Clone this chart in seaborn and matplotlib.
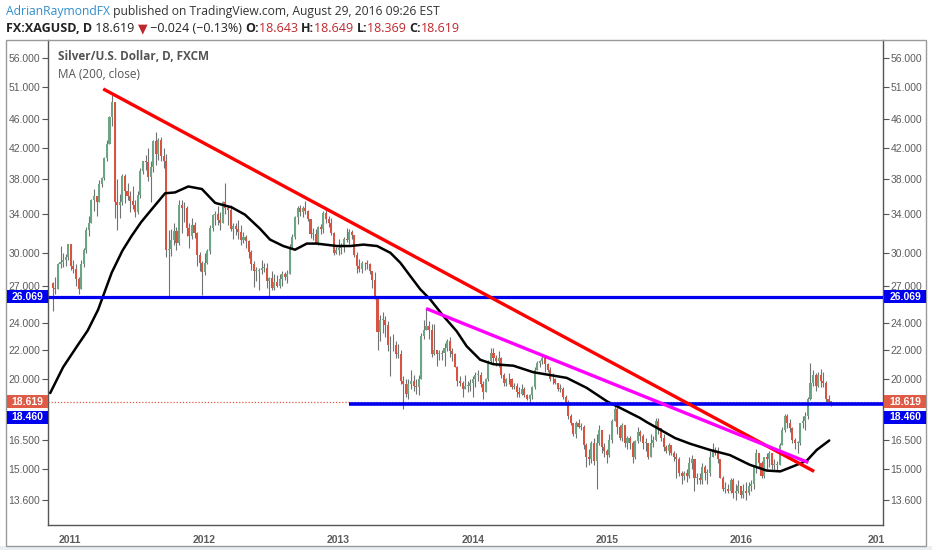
import pandas as pd
import matplotlib
matplotlib.use('Agg')
import matplotlib.pyplot as plt
import matplotlib.transforms as mtransforms
from matplotlib.patches import Rectangle
from matplotlib.ticker import FixedLocator, NullLocator, FuncFormatter
import seaborn as sns

# weekly candles (week starting 2010-11-15)
close_2010 = [26.8, 26.7, 28.9, 29.1, 29.3, 29.6, 30.9]
high_2010 = [27.3, 27.8, 29.0, 30.7, 30.0, 29.9, 30.9]
low_2010 = [24.9, 26.3, 26.7, 28.6, 28.7, 28.8, 29.3]

close_2011 = [28.8, 28.5, 27.6, 26.7, 28.9, 30.3, 32.3, 33.0, 35.5, 36.0, 35.3, 37.4, 38.1,
              40.6, 42.5, 46.3, 48.6, 35.3, 35.0, 35.3, 38.4, 36.6, 36.0, 35.4, 35.0, 34.2,
              36.1, 39.0, 40.2, 40.1, 38.2, 39.5, 42.9, 41.2, 43.0, 40.9, 40.2, 30.3, 30.4,
              31.3, 32.2, 31.0, 35.0, 34.6, 34.6, 32.5, 31.7, 32.8, 32.0, 29.8, 29.0, 28.2]
high_2011 = [30.9, 29.3, 28.9, 27.8, 29.3, 30.5, 32.6, 33.7, 35.6, 36.8, 36.0, 37.9, 38.2,
             40.8, 43.0, 46.5, 49.8, 48.5, 38.0, 36.2, 38.6, 38.6, 37.5, 36.6, 37.1, 35.5,
             36.6, 39.4, 40.3, 41.0, 41.9, 40.3, 43.0, 44.2, 43.3, 43.4, 41.9, 41.2, 32.3,
             32.4, 33.0, 32.6, 35.5, 35.5, 35.3, 34.8, 33.0, 33.5, 33.1, 32.1, 30.1, 29.2]
low_2011 = [28.4, 28.1, 27.0, 26.3, 27.4, 28.7, 30.0, 31.7, 33.8, 34.3, 33.8, 35.5, 37.0,
            37.9, 40.3, 42.7, 45.0, 33.5, 32.3, 33.5, 35.0, 35.2, 35.5, 34.2, 34.5, 33.6,
            34.0, 35.8, 38.6, 39.1, 37.7, 35.3, 38.8, 39.8, 40.4, 40.2, 39.3, 29.6, 26.1,
            29.7, 30.8, 30.3, 30.8, 32.0, 33.1, 31.7, 30.5, 31.4, 31.5, 28.8, 28.3, 26.2]

close_2012 = [29.0, 30.2, 32.5, 33.9, 34.0, 33.3, 33.0, 35.3, 34.6, 34.4, 32.4, 32.7, 32.4,
              32.1, 31.3, 31.6, 31.2, 30.1, 28.9, 28.3, 28.3, 28.4, 28.6, 28.6, 27.4, 27.7,
              26.8, 27.3, 27.0, 27.6, 28.0, 27.8, 28.0, 30.6, 31.6, 33.6, 34.6, 34.2, 34.6,
              34.3, 33.4, 31.9, 31.9, 31.0, 32.6, 32.4, 34.1, 33.4, 33.0, 32.0, 30.0, 30.3, 30.5]
high_2012 = [30.0, 30.4, 32.8, 34.0, 34.3, 34.9, 34.2, 35.4, 37.5, 34.8, 35.0, 33.0, 33.0,
             33.3, 32.8, 32.1, 31.8, 31.3, 30.3, 29.2, 28.7, 28.6, 29.3, 29.0, 29.0, 27.8,
             28.3, 28.0, 27.9, 28.0, 28.3, 28.2, 28.4, 30.9, 31.9, 33.8, 34.8, 35.0, 34.8,
             35.4, 34.4, 33.3, 32.5, 32.4, 32.7, 32.9, 34.3, 34.7, 33.8, 33.5, 32.1, 30.6, 31.4]
low_2012 = [27.9, 28.9, 29.9, 32.2, 32.8, 32.8, 32.3, 33.1, 34.0, 32.8, 32.2, 31.4, 31.8,
            31.4, 30.8, 31.0, 30.5, 29.5, 28.4, 26.9, 27.4, 26.6, 28.0, 28.2, 26.8, 26.1,
            26.6, 26.6, 26.9, 26.8, 27.0, 27.5, 27.2, 28.1, 30.4, 31.4, 32.9, 33.8, 33.6,
            34.0, 33.2, 31.5, 31.3, 30.9, 30.8, 31.9, 32.0, 33.0, 32.6, 31.8, 29.8, 29.9, 29.8]

close_2013 = [30.6, 31.4, 31.3, 32.1, 31.8, 29.8, 28.8, 28.5, 29.0, 29.0, 28.9, 28.3, 27.5,
              26.0, 23.3, 24.2, 24.2, 23.8, 22.3, 22.3, 22.3, 21.7, 21.7, 19.9, 19.7, 19.1,
              19.7, 19.9, 19.6, 19.5, 20.0, 23.0, 23.4, 23.7, 23.4, 21.7, 22.0, 21.7, 21.7,
              21.8, 22.1, 22.6, 21.9, 21.7, 20.8, 19.9, 19.8, 19.4, 19.6, 19.6, 19.8, 20.0]
high_2013 = [31.0, 31.6, 32.5, 32.4, 32.3, 31.8, 30.1, 29.4, 29.2, 29.1, 29.3, 29.0, 28.3,
             28.2, 25.9, 24.6, 24.8, 24.5, 24.1, 23.0, 23.1, 22.6, 22.4, 22.0, 20.2, 20.0,
             20.0, 20.6, 20.3, 20.0, 20.3, 23.2, 24.2, 25.1, 24.1, 23.9, 23.9, 22.0, 22.0,
             22.0, 22.5, 22.8, 22.9, 22.1, 21.8, 20.9, 20.2, 19.9, 20.3, 19.9, 20.0, 20.2]
low_2013 = [29.9, 30.1, 31.1, 30.9, 31.4, 29.6, 28.1, 28.2, 28.1, 28.4, 28.5, 28.0, 26.8,
            25.9, 22.0, 22.6, 23.2, 22.9, 21.9, 20.2, 21.9, 21.4, 21.4, 19.7, 18.2, 18.9,
            18.8, 19.4, 19.3, 19.1, 19.0, 20.0, 22.8, 23.4, 22.8, 21.5, 21.6, 20.9, 21.3,
            21.3, 20.9, 21.9, 21.5, 21.2, 20.8, 19.6, 19.6, 18.9, 19.4, 19.2, 19.3, 18.9]

close_2014 = [20.3, 20.3, 19.7, 19.2, 20.0, 21.2, 21.8, 21.4, 21.2, 21.4, 20.3, 19.8, 20.0,
              20.0, 19.5, 19.6, 19.2, 19.1, 19.4, 19.0, 18.8, 19.0, 19.5, 20.6, 21.1, 21.2,
              21.4, 21.0, 20.6, 20.0, 20.0, 19.8, 19.4, 19.4, 18.9, 18.6, 17.8, 17.4, 16.8,
              17.4, 17.2, 17.2, 16.2, 15.6, 15.5, 16.3, 15.4, 16.3, 17.0, 16.1, 15.9, 15.7]
high_2014 = [20.5, 20.6, 20.5, 19.9, 20.1, 21.3, 22.1, 22.1, 21.6, 21.9, 21.5, 20.4, 20.1,
             20.4, 20.1, 19.8, 19.8, 19.5, 19.7, 19.5, 19.1, 19.1, 19.6, 20.8, 21.2, 21.3,
             21.6, 21.4, 21.1, 20.8, 20.4, 20.1, 19.8, 19.7, 19.5, 19.0, 18.7, 17.9, 17.4,
             17.5, 17.6, 17.4, 17.3, 16.3, 16.0, 16.4, 16.6, 16.8, 17.3, 17.0, 16.3, 16.0]
low_2014 = [19.5, 19.9, 19.5, 18.8, 19.2, 19.9, 21.1, 21.0, 20.9, 20.8, 20.1, 19.6, 19.6,
            19.7, 19.4, 19.4, 18.9, 18.9, 19.0, 18.9, 18.7, 18.6, 18.8, 19.4, 20.6, 20.8,
            21.0, 20.5, 20.5, 19.9, 19.7, 19.7, 19.3, 19.2, 18.8, 18.4, 17.6, 17.3, 16.7,
            16.6, 17.1, 17.0, 16.0, 15.1, 15.2, 15.3, 15.2, 14.1, 16.2, 15.8, 15.6, 15.3]

close_2015 = [16.5, 17.5, 18.2, 17.2, 16.6, 17.3, 16.3, 16.6, 16.3, 15.6, 16.4, 16.9, 16.7,
              16.3, 16.3, 15.6, 16.3, 16.5, 17.5, 17.1, 16.6, 16.1, 15.9, 16.2, 15.8, 15.6,
              15.5, 14.8, 14.7, 14.8, 14.7, 15.3, 15.5, 14.6, 14.6, 14.5, 15.1, 14.8, 14.8,
              15.6, 15.9, 15.8, 15.5, 14.6, 14.1, 14.1, 14.0, 14.5, 13.9, 14.0, 14.2, 13.8]
high_2015 = [16.8, 17.6, 18.5, 18.4, 17.3, 17.4, 17.3, 16.7, 16.7, 16.4, 16.5, 17.2, 17.0,
             16.8, 16.6, 16.0, 16.8, 16.7, 17.7, 17.7, 17.1, 16.8, 16.2, 16.3, 16.2, 15.9,
             15.8, 15.6, 14.9, 14.9, 15.0, 15.6, 15.7, 15.5, 14.8, 14.8, 15.3, 15.2, 15.0,
             15.9, 16.3, 16.1, 16.1, 15.5, 14.7, 14.4, 14.3, 14.6, 14.6, 14.3, 14.5, 14.1]
low_2015 = [15.6, 16.3, 17.7, 16.8, 16.5, 16.4, 16.1, 16.0, 16.0, 15.3, 15.5, 16.3, 16.4,
            16.0, 15.9, 15.5, 15.6, 16.1, 16.4, 16.8, 16.4, 15.9, 15.8, 15.7, 15.7, 15.4,
            14.6, 14.7, 14.3, 14.5, 14.4, 14.6, 15.0, 14.0, 14.3, 14.3, 14.3, 14.5, 14.3,
            14.7, 15.6, 15.7, 15.3, 14.6, 14.0, 13.9, 13.9, 13.9, 13.7, 13.6, 13.9, 13.7]

close_2016 = [14.0, 13.9, 14.2, 14.3, 15.1, 15.8, 15.3, 14.7, 15.6, 15.5, 15.8, 15.2, 15.2,
              15.2, 16.2, 17.0, 17.8, 17.4, 17.1, 16.5, 16.3, 16.3, 17.4, 17.5, 17.8, 18.8,
              19.8, 20.3, 19.6, 20.3, 19.9, 19.8, 18.8, 18.6, 18.619]
high_2016 = [14.3, 14.4, 14.4, 14.5, 15.2, 16.0, 15.8, 15.4, 15.6, 15.8, 15.9, 15.8, 15.5,
             15.4, 16.3, 17.2, 17.9, 17.9, 17.6, 17.2, 16.6, 16.4, 17.4, 17.8, 18.0, 18.9,
             21.1, 20.6, 20.4, 20.5, 20.7, 20.5, 19.9, 19.0, 18.649]
low_2016 = [13.7, 13.6, 13.8, 14.0, 14.1, 14.8, 15.1, 14.6, 14.6, 15.0, 15.1, 15.0, 14.9,
            14.9, 15.3, 16.2, 16.9, 17.1, 16.9, 16.3, 16.0, 15.8, 16.2, 17.1, 17.0, 17.6,
            18.7, 19.6, 19.3, 19.5, 19.5, 19.5, 18.6, 18.5, 18.369]
first_open = 27.2

# 200-day moving average
ma_dates = ['2010-11-10', '2010-12-15', '2011-01-22', '2011-02-20', '2011-03-20', '2011-04-26',
            '2011-05-25', '2011-06-19', '2011-07-15', '2011-08-13', '2011-09-18', '2011-10-15',
            '2011-11-20', '2011-12-27', '2012-02-01', '2012-03-17', '2012-04-22', '2012-06-02',
            '2012-06-29', '2012-08-04', '2012-09-05', '2012-10-07', '2012-11-03', '2012-12-28',
            '2013-02-02', '2013-03-10', '2013-04-16', '2013-05-22', '2013-06-18', '2013-07-15',
            '2013-08-11', '2013-09-07', '2013-10-13', '2013-11-18', '2013-12-15', '2014-01-21',
            '2014-02-26', '2014-04-21', '2014-06-14', '2014-08-07', '2014-09-13', '2014-11-06',
            '2014-12-31', '2015-02-05', '2015-03-31', '2015-04-18', '2015-07-04', '2015-08-14',
            '2015-10-07', '2015-11-30', '2016-01-23', '2016-03-09', '2016-04-15', '2016-05-21',
            '2016-06-26', '2016-07-23', '2016-08-26']
ma_values = [19.15, 20.8, 22.25, 23.4, 25.0, 28.15, 30.2, 31.66, 33.1, 34.5, 36.3, 36.4,
             37.1, 36.8, 35.2, 34.7, 33.9, 32.4, 31.3, 30.66, 30.3, 30.9, 30.9, 30.66,
             30.66, 30.8, 30.66, 30.0, 29.06, 27.85, 26.7, 25.85, 24.5, 23.34, 22.25, 21.3,
             21.0, 20.9, 20.47, 20.25, 20.1, 19.47, 18.65, 18.26, 17.68, 17.45, 16.58, 16.28,
             15.96, 15.7, 15.22, 14.94, 14.9, 15.15, 15.42, 15.96, 16.45]

# drawn trend lines and levels
red_line_dates = ['2011-04-03', '2016-07-16']
red_line_values = [50.7, 14.9]
pink_line_dates = ['2013-08-27', '2016-06-30']
pink_line_values = [25.1, 15.33]
resistance = 26.069
support = 18.46
support_start = '2013-01-30'
last_price = 18.619

y_ticks = [13.6, 15, 16.5, 20, 22, 24, 27, 30, 34, 38, 42, 46, 51, 56]
year_ticks = ['2011', '2012', '2013', '2014', '2015', '2016', '2017']
year_labels = ['2011', '2012', '2013', '2014', '2015', '2016', '201']

UP = '#6ba583'
DOWN = '#d75442'
BLUE = '#0000f0'
GREY = '#5c5c5c'

sns.set_theme(style='white')
plt.rcParams['font.family'] = ['Liberation Sans', 'DejaVu Sans']

W, H = 932, 550
fig = plt.figure(figsize=(W / 100, H / 100), dpi=100)
fig.patch.set_facecolor('white')

# chart frame and grey strip below
fig.add_artist(Rectangle((0, 0), 1, 4 / H, transform=fig.transFigure, facecolor='#eceff2',
                         edgecolor='none', zorder=0))
fig.add_artist(Rectangle((6 / W, 1 - 546 / H), 920 / W, 506 / H, transform=fig.transFigure,
                         facecolor='none', edgecolor='#9a9a9a', lw=1.0, zorder=1))

ax = fig.add_axes([48 / W, 1 - 525 / H, 835 / W, 485 / H])

close = close_2010 + close_2011 + close_2012 + close_2013 + close_2014 + close_2015 + close_2016
high = high_2010 + high_2011 + high_2012 + high_2013 + high_2014 + high_2015 + high_2016
low = low_2010 + low_2011 + low_2012 + low_2013 + low_2014 + low_2015 + low_2016

df = pd.DataFrame({'week': pd.date_range('2010-11-15', periods=len(close), freq='7D'),
                   'close': close, 'high': high, 'low': low})
df['open'] = df['close'].shift(1).fillna(first_open)
df['x'] = df['week'] + pd.Timedelta(days=2)
df['high'] = df[['high', 'open', 'close']].max(axis=1)
df['low'] = df[['low', 'open', 'close']].min(axis=1)
df['color'] = [UP if c >= o else DOWN for o, c in zip(df['open'], df['close'])]

ax.vlines(df['x'], df['low'], df['high'], colors='#6f7472', lw=0.8, zorder=2)
ax.bar(df['x'], (df['close'] - df['open']).abs().clip(lower=0.05),
       bottom=df[['open', 'close']].min(axis=1), width=5.6, color=df['color'],
       edgecolor='none', zorder=3)

ma = pd.DataFrame({'date': pd.to_datetime(ma_dates), 'ma': ma_values})
sns.lineplot(data=ma, x='date', y='ma', color='black', lw=1.8, ax=ax, zorder=4)

x0 = pd.Timestamp('2010-11-04')
x1 = pd.Timestamp('2017-01-19')
ax.set_yscale('log')
ax.set_ylim(12.55, 59.3)
ax.set_xlim(x0, x1)

ax.hlines(last_price, x0, x1, colors='#e05a45', linestyles=(0, (1, 1.5)), lw=0.9, zorder=5)
ax.hlines(resistance, x0, x1, colors=BLUE, lw=2.3, zorder=6)
ax.hlines(support, pd.Timestamp(support_start), x1, colors=BLUE, lw=2.6, zorder=6)
ax.plot(pd.to_datetime(red_line_dates), red_line_values, color='#ff0000', lw=2.4,
        solid_capstyle='butt', zorder=7)
ax.plot(pd.to_datetime(pink_line_dates), pink_line_values, color='#ff00ff', lw=2.4,
        solid_capstyle='butt', zorder=7)

# axes styling
for side in ['left', 'right', 'bottom']:
    ax.spines[side].set_color('#555555')
    ax.spines[side].set_linewidth(1.0)
ax.spines['top'].set_visible(False)
ax.set_xlabel('')
ax.set_ylabel('')
ax.yaxis.set_major_locator(FixedLocator(y_ticks))
ax.yaxis.set_minor_locator(NullLocator())
ax.yaxis.set_major_formatter(FuncFormatter(lambda v, p: f'{v:.3f}'))
ax.tick_params(axis='y', which='major', left=True, right=True, labelleft=True, labelright=True,
               direction='out', length=4, width=0.8, color='#555555', labelsize=7.5,
               labelcolor=GREY, pad=1.5)
ax.set_xticks(pd.to_datetime([f'{y}-01-01' for y in year_ticks]))
ax.set_xticklabels(year_labels)
ax.tick_params(axis='x', direction='out', length=4, width=0.8, color='#555555', labelsize=7.5,
               labelcolor=GREY, pad=3)
for lab in ax.get_xticklabels():
    lab.set_fontweight('bold')
ax.grid(False)

# price boxes on both scales
shift_fig = mtransforms.blended_transform_factory(fig.transFigure, ax.transData)
boxes = [(resistance, BLUE, 0), (last_price, '#df5b45', 0), (support, BLUE, -13)]
for value, face, dy in boxes:
    tr = shift_fig + mtransforms.ScaledTranslation(0, dy / 100, fig.dpi_scale_trans)
    lo = value * 2.718281828 ** (-6.5 / 311.6)
    hi = value * 2.718281828 ** (6.5 / 311.6)
    for left_px, width_px in [(7, 41), (884, 42)]:
        fig.add_artist(Rectangle((left_px / W, lo), width_px / W, hi - lo, transform=tr,
                                 facecolor=face, edgecolor='none', zorder=10))
        fig.text((left_px + width_px / 2) / W, value, f'{value:.3f}', transform=tr,
                 ha='center', va='center', color='white', fontsize=7.5, fontweight='bold',
                 zorder=11)

# chart caption
fig.text(58 / W, 1 - 57 / H, 'Silver/U.S. Dollar, D, FXCM', fontsize=8.5, fontweight='bold',
         color='#555555', va='center', family=['Open Sans', 'DejaVu Sans'])
fig.text(58 / W, 1 - 74 / H, 'MA (200, close)', fontsize=8.5, color='#555555', va='center',
         family=['Open Sans', 'DejaVu Sans'])

# header lines
renderer = fig.canvas.get_renderer()


def draw_run(x, y, size, pieces):
    for txt, color, weight in pieces:
        t = fig.text(x / W, 1 - y / H, txt, color=color, fontweight=weight, fontsize=size,
                     va='center', family=['Open Sans', 'DejaVu Sans'])
        x += t.get_window_extent(renderer).width


RED = '#c0272d'
draw_run(6, 12, 8.7, [('AdrianRaymondFX', '#2f8dcb', 'normal'),
                      (' published on TradingView.com, August 29, 2016 09:26 EST', '#333333', 'normal')])
draw_run(6, 29, 9.0, [('FX:XAGUSD, D', '#222222', 'bold'), (' 18.619 ', '#222222', 'normal'),
                      ('▼', RED, 'normal'), (' \u22120.024 (\u22120.13%) ', '#222222', 'normal'),
                      ('O:', '#222222', 'bold'), ('18.643 ', RED, 'normal'),
                      ('H:', '#222222', 'bold'), ('18.649 ', RED, 'normal'),
                      ('L:', '#222222', 'bold'), ('18.369 ', RED, 'normal'),
                      ('C:', '#222222', 'bold'), ('18.619', RED, 'normal')])

fig.savefig('out.png', dpi=100)
